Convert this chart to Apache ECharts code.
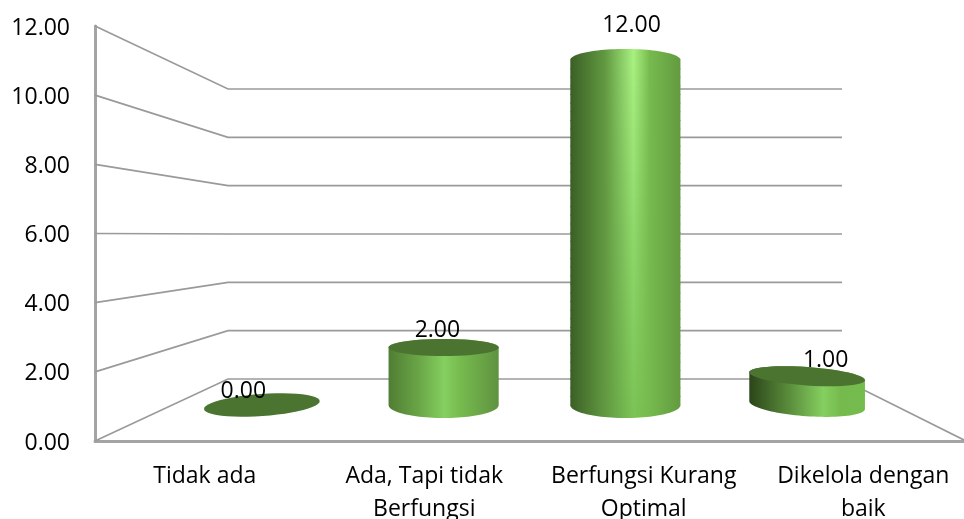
<!DOCTYPE html>
<html><head><meta charset="utf-8">
<style>html,body{margin:0;padding:0;background:#fff}#c{width:964px;height:519px}</style>
<script src="https://cdn.jsdelivr.net/npm/echarts@6/dist/echarts.min.js"></script>
</head><body><div id="c"></div>
<script>
const categories = ['Tidak ada', 'Ada, Tapi tidak\nBerfungsi', 'Berfungsi Kurang\nOptimal', 'Dikelola dengan\nbaik'];
const values = [0, 2, 12, 1];
const yTicks = [0, 2, 4, 6, 8, 10, 12];

const FONT = '"Open Sans", sans-serif';
const FS = 23;
const HORIZON = 6;
const chart = echarts.init(document.getElementById('c'), null, {renderer:'canvas'});

function pts(cx, cy, rx, ry, rot, a, b, out) {
  const n = 48, c = Math.cos(rot), s = Math.sin(rot);
  for (let i = 0; i <= n; i++) {
    const t = a + (b - a) * i / n;
    const x = rx * Math.cos(t), y = ry * Math.sin(t);
    out.push([cx + x * c - y * s, cy + x * s + y * c]);
  }
  return out;
}
function mix(a, b, t) {
  return 'rgb(' + a.map((v, i) => Math.round(v + (b[i] - v) * t)).join(',') + ')';
}

function renderWall(params, api) {
  const v = api.value(1);
  const bl = api.coord([0, v]), br = api.coord([1, v]);
  const front = chart.convertToPixel({xAxisIndex:0, yAxisIndex:0}, [0, v]);
  const points = [[95, front[1]], bl, br];
  if (v === 0) points.push([966, front[1]]);
  return {type:'polyline', shape:{points}, style:{fill:null, stroke:'#9a9a9a', lineWidth:1.7}, silent:true};
}

function renderBar(params, api) {
  const i = api.value(0), v = api.value(1);
  const top = api.coord([i, v]), base = api.coord([i, 0]);
  const hy = api.coord([i, HORIZON])[1];
  const band = api.size([1, 0])[0];
  const cx = top[0];
  const outer = i === 0 || i === categories.length - 1;
  const rx = band * (outer ? 0.319 : 0.303);
  const rot = outer ? (i === 0 ? -1 : 1) * 0.07 : 0;
  const k = outer ? 0.86 : 1;
  const ryBase = Math.abs(base[1] - hy) * 0.0756 * k;
  const above = top[1] < hy;
  const ryTop = Math.abs(top[1] - hy) * 0.0745 * (above ? 0.86 : k);
  const children = [];
  const t = i / (categories.length - 1);
  const peak = 0.44 + 0.2 * t;
  const left = [[64,98,42],[80,125,52],[59,95,38],[43,69,25]][i];
  const right = [[95,146,64],[95,146,64],[99,154,64],[116,187,77]][i];
  const grad = (bright) => new echarts.graphic.LinearGradient(0,0,1,0,[
    {offset:0,color:mix(left,left,0)},
    {offset:peak*0.55,color:mix(left,[125,195,85],0.58)},
    {offset:peak,color:bright},
    {offset:Math.min(0.97,peak+0.15),color:'rgb(118,186,78)'},
    {offset:1,color:mix(right,right,0)}
  ]);
  if (v > 0) {
    if (above) {
      const tc = [168,240,128], mc = [142,216,106], bc = [124,196,86];
      const arch = pts(cx, top[1], rx, ryTop, rot, Math.PI, 2 * Math.PI, []);
      children.push({type:'polygon', shape:{points:arch}, style:{fill:grad(mix(tc,tc,0))}});
      const h = base[1] - top[1], n = 40;
      for (let j = 0; j < n; j++) {
        const f = j / n;
        const col = f < 0.5 ? mix(tc, mc, f / 0.5) : mix(mc, bc, (f - 0.5) / 0.5);
        children.push({type:'rect', shape:{x:cx - rx, y:top[1] + h * f - 0.5, width:2 * rx, height:h / n + 1},
          style:{fill:grad(col)}});
      }
      children.push({type:'polygon', shape:{points:pts(cx, base[1], rx, ryBase, rot, 0, Math.PI, [])},
        style:{fill:grad(mix(bc,bc,0))}});
    } else {
      const body = pts(cx, top[1], rx, ryTop, rot, Math.PI, 2 * Math.PI, []);
      pts(cx, base[1], rx, ryBase, rot, 0, Math.PI, body);
      children.push({type:'polygon', shape:{points:body}, style:{fill:grad('rgb(133,207,96)')}});
    }
  }
  if (!above) {
    children.push({type:'polygon', shape:{points:pts(cx, top[1], rx, ryTop, rot, 0, 2 * Math.PI, [])},
      style:{fill:'#4b7431'}});
  }
  children.push({type:'text', style:{
    x:cx + (cx - 535) * 0.068, y:top[1] - 14 - v * 1.75,
    text:v.toFixed(2), fill:'#000', font:FS + 'px ' + FONT, align:'center', verticalAlign:'middle'
  }, z2:10});
  return {type:'group', children};
}

chart.setOption({
  animation:false,
  backgroundColor:'#fff',
  grid:[
    {left:95, top:26, width:878, height:415, outerBoundsMode:'none', containLabel:false},
    {left:228, top:89, width:614, height:290, outerBoundsMode:'none'},
    {left:171, top:60, width:727, height:345, outerBoundsMode:'none'}
  ],
  xAxis:[
    {gridIndex:0, type:'category', data:categories, boundaryGap:true,
     axisTick:{show:false}, splitLine:{show:false},
     axisLine:{show:true, lineStyle:{color:'#a4a4a4', width:3}},
     axisLabel:{color:'#000', fontFamily:FONT, fontSize:FS, lineHeight:33, margin:19, interval:0}},
    {gridIndex:1, type:'value', min:0, max:1, show:false},
    {gridIndex:2, type:'category', data:categories, show:false}
  ],
  yAxis:[
    {gridIndex:0, type:'value', min:0, max:12, interval:2, splitLine:{show:false},
     axisTick:{show:false}, axisLine:{show:true, lineStyle:{color:'#a4a4a4', width:3}},
     axisLabel:{color:'#000', fontFamily:FONT, fontSize:FS, margin:25, verticalAlign:'top', lineHeight:4, formatter:(v)=>v.toFixed(2)}},
    {gridIndex:1, type:'value', min:0, max:12, interval:2, show:false},
    {gridIndex:2, type:'value', min:0, max:12, interval:2, show:false}
  ],
  series:[
    {type:'custom', xAxisIndex:1, yAxisIndex:1, z:1, clip:false, silent:true,
     data:yTicks.map(v=>[0,v]), encode:{x:0,y:1}, renderItem:renderWall},
    {type:'custom', xAxisIndex:2, yAxisIndex:2, z:3, clip:false, silent:true,
     data:values.map((v,i)=>[i,v]), encode:{x:0,y:1}, renderItem:renderBar}
  ]
});
</script></body></html>
